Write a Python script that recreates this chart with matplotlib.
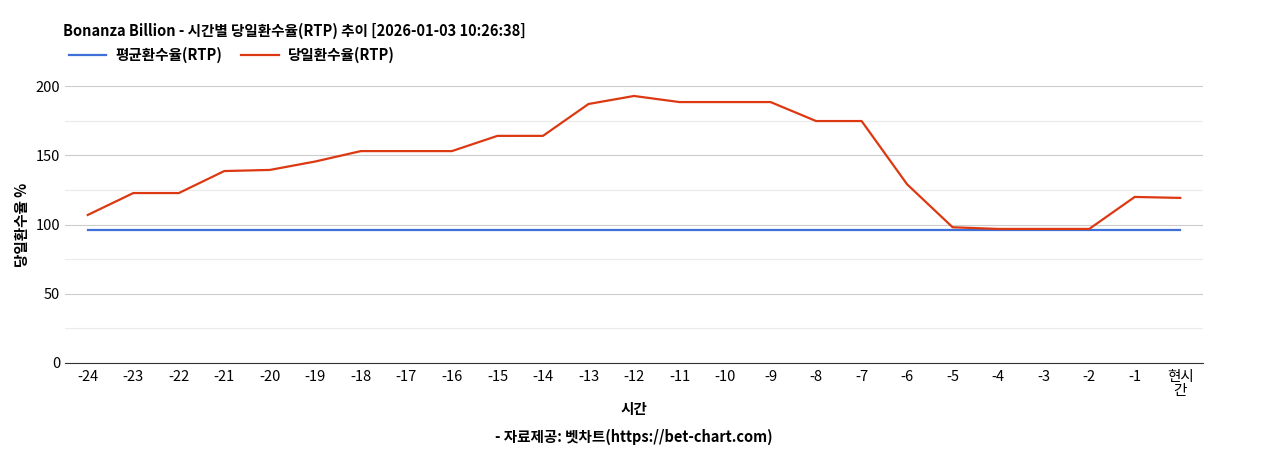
import matplotlib
matplotlib.use("Agg")
import matplotlib.pyplot as plt

plt.rcParams['font.family'] = ['Noto Sans CJK KR', 'DejaVu Sans']

labels = [str(i) for i in range(-24, 0)] + ["현시\n간"]
daily = [106.9, 122.7, 122.7, 138.6, 139.4, 145.5, 153, 153, 153, 164, 164, 187, 192.8,
         188.4, 188.4, 188.4, 174.7, 174.7, 129, 98, 96.8, 96.8, 96.8, 119.9, 119.2]
avg = [96.0] * len(labels)

fig = plt.figure(figsize=(12.68, 4.5), dpi=100)
ax = fig.add_axes([65/1268, 1-363/450, (1203-65)/1268, (363-86)/450])
x = range(len(labels))
ax.plot(x, avg, color='#3f6fd8', lw=1.6, label='평균환수율(RTP)')
ax.plot(x, daily, color='#dc3912', lw=1.6, label='당일환수율(RTP)')
ax.set_xlim(-0.5, len(labels)-0.5)
ax.set_ylim(0, 200)
ax.set_yticks([0, 50, 100, 150, 200])
ax.set_yticks([25, 75, 125, 175], minor=True)
ax.grid(axis='y', which='major', color='#cccccc', lw=0.8)
ax.grid(axis='y', which='minor', color='#ebebeb', lw=0.8)
ax.set_xticks(list(x))
ax.set_xticklabels(labels, fontsize=10.5, linespacing=1.0)
ax.tick_params(axis='y', labelsize=10.5, length=0)
ax.tick_params(axis='y', which='minor', length=0, labelleft=False)
ax.tick_params(axis='x', length=0, pad=5)
for s in ['top', 'right', 'left']:
    ax.spines[s].set_visible(False)
ax.spines['bottom'].set_color('#333333')
ax.set_axisbelow(True)
ax.set_ylabel('당일환수율 %', fontsize=10.5, fontweight='bold')
ax.set_xlabel('시간', fontsize=10.5, fontweight='bold', labelpad=2)
fig.text(0.5, 1-437/450, '- 자료제공: 벳차트(https://bet-chart.com)', ha='center', va='center',
         fontsize=10.5, fontweight='bold')
fig.text(63/1268, 1-31/450, 'Bonanza Billion - 시간별 당일환수율(RTP) 추이 [2026-01-03 10:26:38]',
         fontsize=10.5, fontweight='bold', va='center')
ax.legend(loc='center left', bbox_to_anchor=(-0.002, 1+31/277), ncol=2, frameon=False,
          prop={'size': 10.5, 'weight': 'bold'}, handlelength=2.6, borderaxespad=0,
          columnspacing=1.3, handletextpad=0.6)
fig.savefig('out.png')
